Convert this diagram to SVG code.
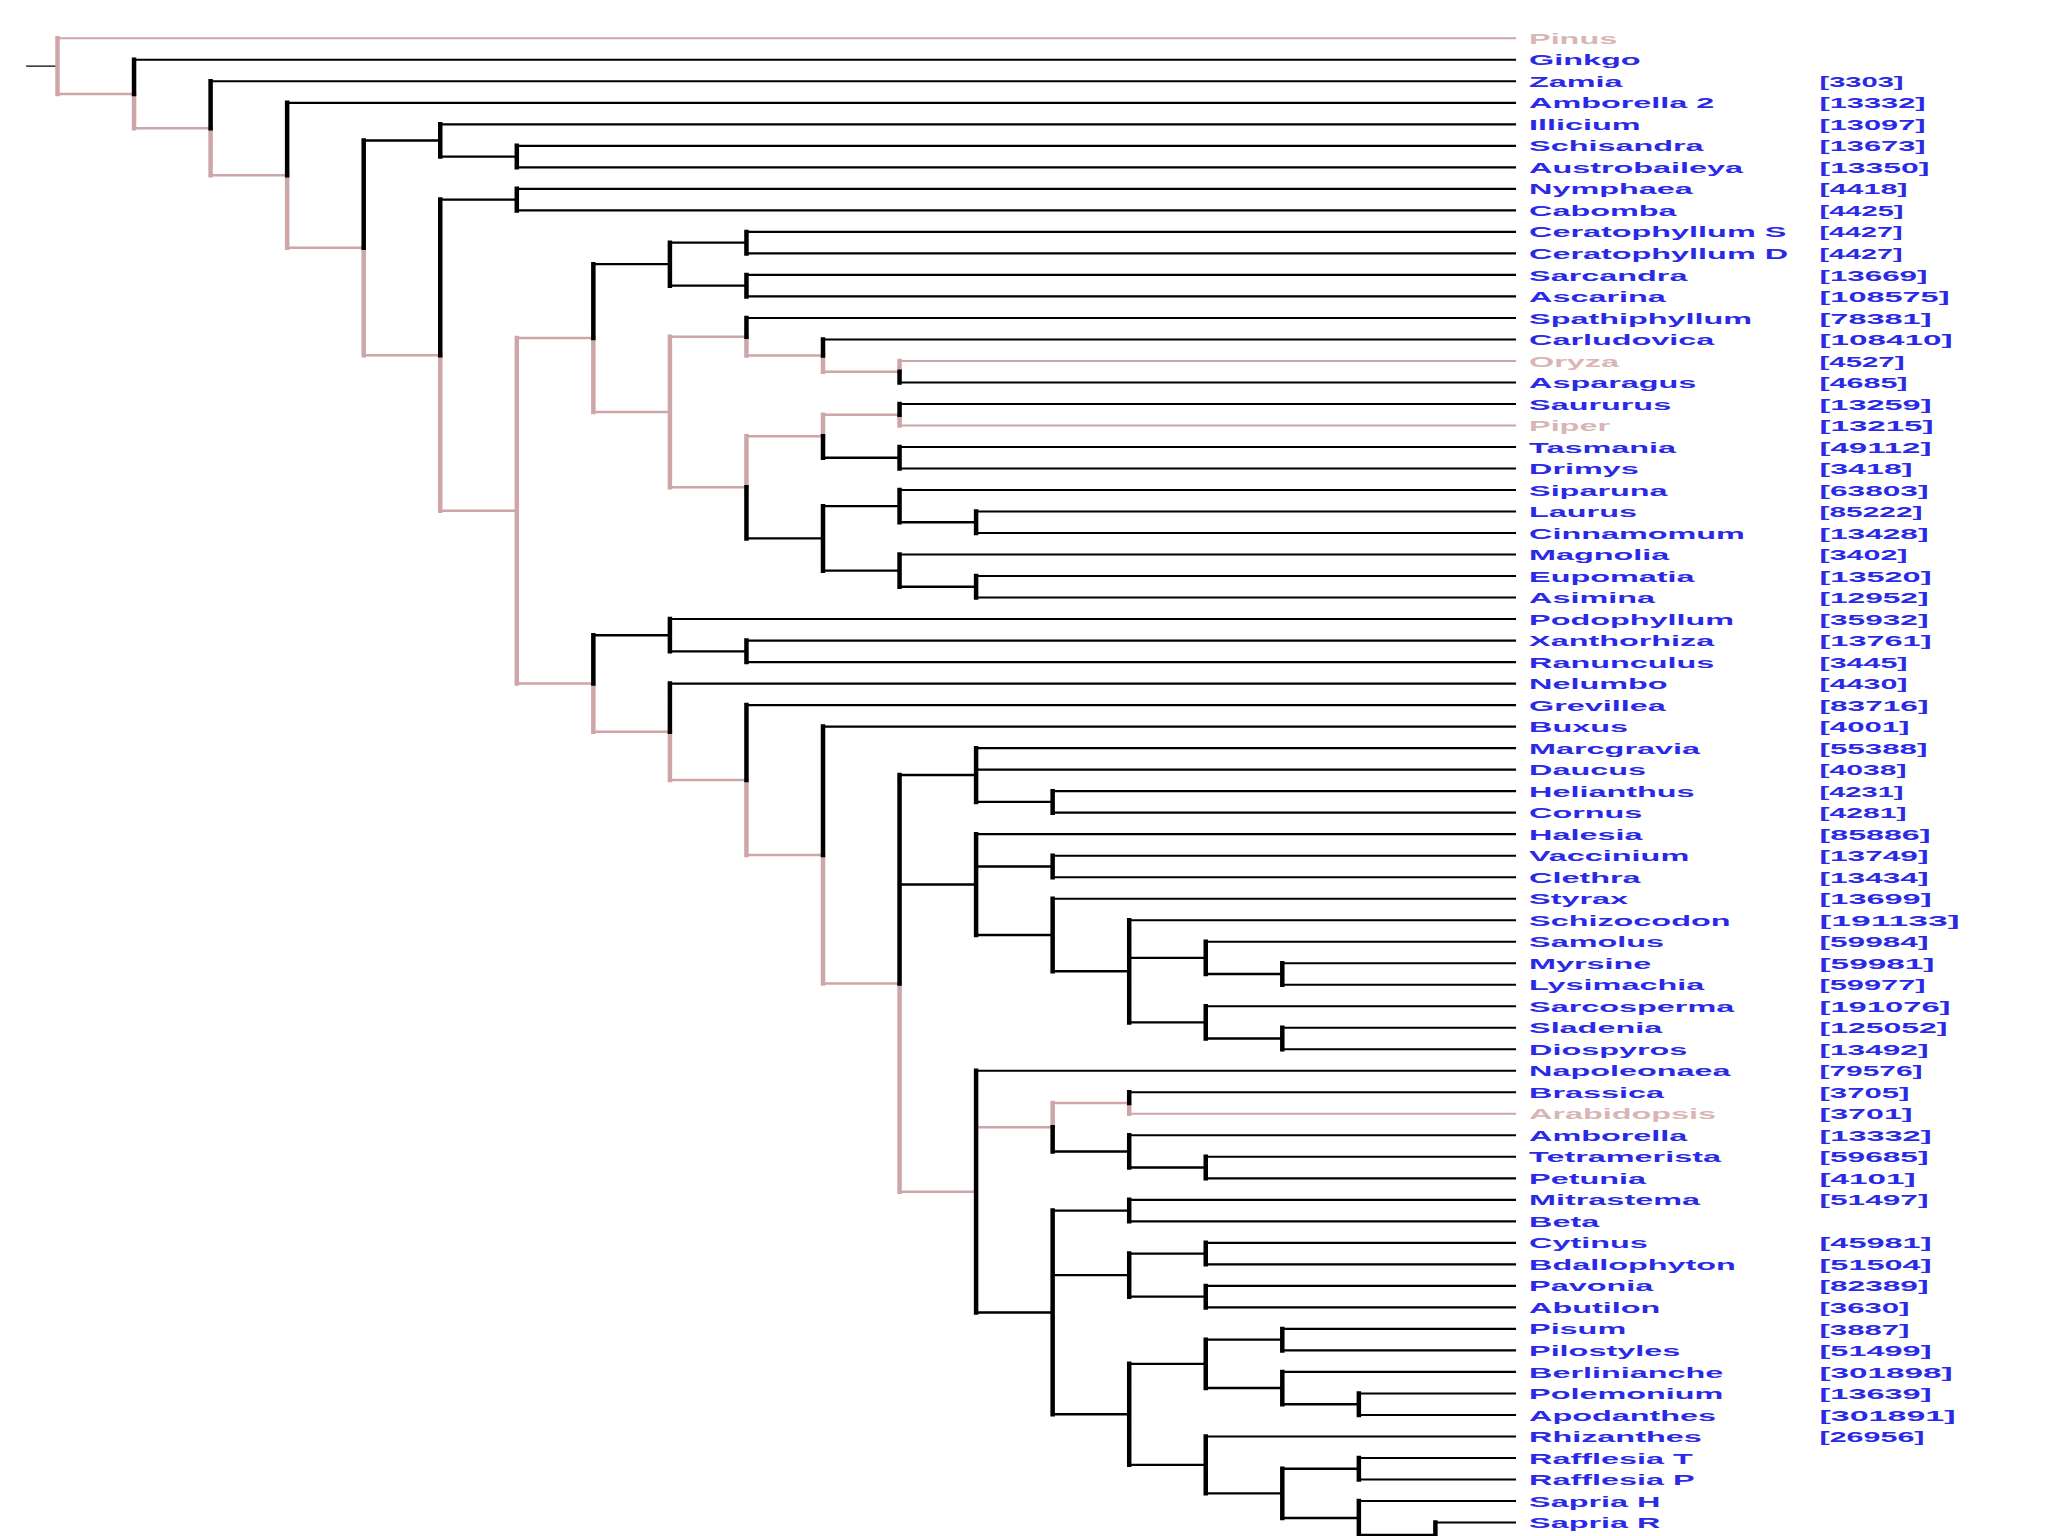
<svg xmlns="http://www.w3.org/2000/svg" width="2048" height="1536" viewBox="0 0 2048 1536">
<style>
.tree path{fill:none;vector-effect:non-scaling-stroke;stroke-linecap:square}
.pv{stroke:#cfa6a8;stroke-width:4.5}
.ph{stroke:#cfa6a8;stroke-width:2.5}
.bv{stroke:#000;stroke-width:4.5}
.bh{stroke:#000;stroke-width:2.4}
.bl{stroke:#000;stroke-width:2.1}
.pl{stroke:#cfa6a8;stroke-width:2}
.st{stroke:#000;stroke-width:1.4}
text{font-family:"Liberation Sans",Arial,sans-serif;font-weight:bold;font-size:15.5px}
.n{fill:#2a2ae6;transform:scale(2.09,1)}
.np{fill:#d8b6b6;transform:scale(2.09,1)}
.c{fill:#2a2ae6}
</style>
<rect width="2048" height="1536" fill="#ffffff"/>
<g id="connectors" class="tree" transform="translate(57.5,38.3) scale(76.55,21.51)">
<path class="st" d="M-0.4,1.295H0"/>
<path class="pl" d="M0,0H19.04M11,15H19.04M11,18H19.04M14,50H19.04"/>
<path class="ph" d="M0,2.59H1M1,4.185H2M2,6.37H3M3,9.74H4M4,14.73H5M5,21.97H6M6,13.9375H7M6,29.99H7M7,17.375H8M8,13.875H9M8,20.875H9M9,14.75H10M10,15.5H11M9,18.5H10M10,17.5H11M7,32.24H8M8,34.48H9M9,37.97H10M10,43.94H11M11,53.62H12M12,50.625H13M13,49.5H14"/>
<path class="pv" d="M0,0V2.59M1,2.59V4.185M2,4.185V6.37M3,6.37V9.74M4,9.74V14.73M5,14.73V21.97M6,13.9375V29.99M7,13.9375V17.375M8,13.875V20.875M9,13.875V14.75M10,14.75V15.5M11,15V15.5M9,18.5V20.875M10,17.5V18.5M11,17.5V18M7,29.99V32.24M8,32.24V34.48M9,34.48V37.97M10,37.97V43.94M11,43.94V53.62M13,49.5V50.625M14,49.5V50"/>
<path class="bl" d="M1,1H19.04M2,2H19.04M3,3H19.04M5,4H19.04M6,5H19.04M6,6H19.04M6,7H19.04M6,8H19.04M9,9H19.04M9,10H19.04M9,11H19.04M9,12H19.04M9,13H19.04M10,14H19.04M11,16H19.04M11,17H19.04M11,19H19.04M11,20H19.04M11,21H19.04M12,22H19.04M12,23H19.04M11,24H19.04M12,25H19.04M12,26H19.04M8,27H19.04M9,28H19.04M9,29H19.04M8,30H19.04M9,31H19.04M10,32H19.04M12,33H19.04M12,34H19.04M13,35H19.04M13,36H19.04M12,37H19.04M13,38H19.04M13,39H19.04M13,40H19.04M14,41H19.04M15,42H19.04M16,43H19.04M16,44H19.04M15,45H19.04M16,46H19.04M16,47H19.04M12,48H19.04M14,49H19.04M14,51H19.04M15,52H19.04M15,53H19.04M14,54H19.04M14,55H19.04M15,56H19.04M15,57H19.04M15,58H19.04M15,59H19.04M16,60H19.04M16,61H19.04M16,62H19.04M17,63H19.04M17,64H19.04M15,65H19.04M17,66H19.04M17,67H19.04M17,68H19.04M18,69H19.04"/>
<path class="bh" d="M4,4.75H5M5,5.5H6M5,7.5H6M7,10.5H8M8,9.5H9M8,11.5H9M9,23.25H10M10,19.5H11M10,21.75H11M10,24.75H11M11,22.5H12M11,25.5H12M7,27.75H8M8,28.5H9M11,34.25H12M11,39.34H12M12,35.5H13M12,38.5H13M12,41.6875H13M13,43.375H14M14,42.75H15M14,45.75H15M15,43.5H16M15,46.5H16M12,59.24H13M13,51.75H14M14,52.5H15M13,54.5H14M13,57.5H14M14,56.5H15M14,58.5H15M13,63.97H14M14,61.625H15M14,66.32H15M15,60.5H16M15,62.75H16M16,63.5H17M15,67.645H16M16,66.5H17M16,68.79H17M17,69.58H18"/>
<path class="bv" d="M1,1V2.59M2,2V4.185M3,3V6.37M4,4.75V9.74M5,4V5.5M6,5V6M5,7.5V14.73M6,7V8M7,10.5V13.9375M8,9.5V11.5M9,9V10M9,11V12M9,13V13.875M10,14V14.75M11,15.5V16M9,20.875V23.25M10,18.5V19.5M11,17V17.5M11,19V20M10,21.75V24.75M11,21V22.5M12,22V23M11,24V25.5M12,25V26M7,27.75V29.99M8,27V28.5M9,28V29M8,30V32.24M9,31V34.48M10,32V37.97M11,34.25V43.94M12,33V35.5M13,35V36M12,37V41.6875M13,38V39M13,40V43.375M14,41V45.75M15,42V43.5M16,43V44M15,45V46.5M16,46V47M12,48V59.24M13,50.625V51.75M14,49V49.5M14,51V52.5M15,52V53M13,54.5V63.97M14,54V55M14,56.5V58.5M15,56V57M15,58V59M14,61.625V66.32M15,60.5V62.75M16,60V61M16,62V63.5M17,63V64M15,65V67.645M16,66.5V68.79M17,66V67M17,68V69.58M18,69V71"/>
</g>
<g id="leaf-pinus"><text class="np" x="731.6" y="43.9">Pinus</text></g>
<g id="leaf-ginkgo"><text class="n" x="731.6" y="65.41">Ginkgo</text></g>
<g id="leaf-zamia"><text class="n" x="731.6" y="86.92">Zamia</text><text class="c" x="1819.5" y="86.92" textLength="84" lengthAdjust="spacingAndGlyphs">[3303]</text></g>
<g id="leaf-amborella2"><text class="n" x="731.6" y="108.43">Amborella 2</text><text class="c" x="1819.5" y="108.43" textLength="106" lengthAdjust="spacingAndGlyphs">[13332]</text></g>
<g id="leaf-illicium"><text class="n" x="731.6" y="129.94">Illicium</text><text class="c" x="1819.5" y="129.94" textLength="106" lengthAdjust="spacingAndGlyphs">[13097]</text></g>
<g id="leaf-schisandra"><text class="n" x="731.6" y="151.45">Schisandra</text><text class="c" x="1819.5" y="151.45" textLength="106" lengthAdjust="spacingAndGlyphs">[13673]</text></g>
<g id="leaf-austrobaileya"><text class="n" x="731.6" y="172.96">Austrobaileya</text><text class="c" x="1819.5" y="172.96" textLength="110" lengthAdjust="spacingAndGlyphs">[13350]</text></g>
<g id="leaf-nymphaea"><text class="n" x="731.6" y="194.47">Nymphaea</text><text class="c" x="1819.5" y="194.47" textLength="88" lengthAdjust="spacingAndGlyphs">[4418]</text></g>
<g id="leaf-cabomba"><text class="n" x="731.6" y="215.98">Cabomba</text><text class="c" x="1819.5" y="215.98" textLength="84" lengthAdjust="spacingAndGlyphs">[4425]</text></g>
<g id="leaf-ceratophyllum-s"><text class="n" x="731.6" y="237.49">Ceratophyllum S</text><text class="c" x="1819.5" y="237.49" textLength="83" lengthAdjust="spacingAndGlyphs">[4427]</text></g>
<g id="leaf-ceratophyllum-d"><text class="n" x="731.6" y="259">Ceratophyllum D</text><text class="c" x="1819.5" y="259" textLength="83" lengthAdjust="spacingAndGlyphs">[4427]</text></g>
<g id="leaf-sarcandra"><text class="n" x="731.6" y="280.51">Sarcandra</text><text class="c" x="1819.5" y="280.51" textLength="108" lengthAdjust="spacingAndGlyphs">[13669]</text></g>
<g id="leaf-ascarina"><text class="n" x="731.6" y="302.02">Ascarina</text><text class="c" x="1819.5" y="302.02" textLength="130" lengthAdjust="spacingAndGlyphs">[108575]</text></g>
<g id="leaf-spathiphyllum"><text class="n" x="731.6" y="323.53">Spathiphyllum</text><text class="c" x="1819.5" y="323.53" textLength="112" lengthAdjust="spacingAndGlyphs">[78381]</text></g>
<g id="leaf-carludovica"><text class="n" x="731.6" y="345.04">Carludovica</text><text class="c" x="1819.5" y="345.04" textLength="133" lengthAdjust="spacingAndGlyphs">[108410]</text></g>
<g id="leaf-oryza"><text class="np" x="731.6" y="366.55">Oryza</text><text class="c" x="1819.5" y="366.55" textLength="85" lengthAdjust="spacingAndGlyphs">[4527]</text></g>
<g id="leaf-asparagus"><text class="n" x="731.6" y="388.06">Asparagus</text><text class="c" x="1819.5" y="388.06" textLength="88" lengthAdjust="spacingAndGlyphs">[4685]</text></g>
<g id="leaf-saururus"><text class="n" x="731.6" y="409.57">Saururus</text><text class="c" x="1819.5" y="409.57" textLength="112" lengthAdjust="spacingAndGlyphs">[13259]</text></g>
<g id="leaf-piper"><text class="np" x="731.6" y="431.08">Piper</text><text class="c" x="1819.5" y="431.08" textLength="114" lengthAdjust="spacingAndGlyphs">[13215]</text></g>
<g id="leaf-tasmania"><text class="n" x="731.6" y="452.59">Tasmania</text><text class="c" x="1819.5" y="452.59" textLength="112" lengthAdjust="spacingAndGlyphs">[49112]</text></g>
<g id="leaf-drimys"><text class="n" x="731.6" y="474.1">Drimys</text><text class="c" x="1819.5" y="474.1" textLength="93" lengthAdjust="spacingAndGlyphs">[3418]</text></g>
<g id="leaf-siparuna"><text class="n" x="731.6" y="495.61">Siparuna</text><text class="c" x="1819.5" y="495.61" textLength="109" lengthAdjust="spacingAndGlyphs">[63803]</text></g>
<g id="leaf-laurus"><text class="n" x="731.6" y="517.12">Laurus</text><text class="c" x="1819.5" y="517.12" textLength="103" lengthAdjust="spacingAndGlyphs">[85222]</text></g>
<g id="leaf-cinnamomum"><text class="n" x="731.6" y="538.63">Cinnamomum</text><text class="c" x="1819.5" y="538.63" textLength="109" lengthAdjust="spacingAndGlyphs">[13428]</text></g>
<g id="leaf-magnolia"><text class="n" x="731.6" y="560.14">Magnolia</text><text class="c" x="1819.5" y="560.14" textLength="88" lengthAdjust="spacingAndGlyphs">[3402]</text></g>
<g id="leaf-eupomatia"><text class="n" x="731.6" y="581.65">Eupomatia</text><text class="c" x="1819.5" y="581.65" textLength="112" lengthAdjust="spacingAndGlyphs">[13520]</text></g>
<g id="leaf-asimina"><text class="n" x="731.6" y="603.16">Asimina</text><text class="c" x="1819.5" y="603.16" textLength="109" lengthAdjust="spacingAndGlyphs">[12952]</text></g>
<g id="leaf-podophyllum"><text class="n" x="731.6" y="624.67">Podophyllum</text><text class="c" x="1819.5" y="624.67" textLength="109" lengthAdjust="spacingAndGlyphs">[35932]</text></g>
<g id="leaf-xanthorhiza"><text class="n" x="731.6" y="646.18">Xanthorhiza</text><text class="c" x="1819.5" y="646.18" textLength="112" lengthAdjust="spacingAndGlyphs">[13761]</text></g>
<g id="leaf-ranunculus"><text class="n" x="731.6" y="667.69">Ranunculus</text><text class="c" x="1819.5" y="667.69" textLength="88" lengthAdjust="spacingAndGlyphs">[3445]</text></g>
<g id="leaf-nelumbo"><text class="n" x="731.6" y="689.2">Nelumbo</text><text class="c" x="1819.5" y="689.2" textLength="88" lengthAdjust="spacingAndGlyphs">[4430]</text></g>
<g id="leaf-grevillea"><text class="n" x="731.6" y="710.71">Grevillea</text><text class="c" x="1819.5" y="710.71" textLength="109" lengthAdjust="spacingAndGlyphs">[83716]</text></g>
<g id="leaf-buxus"><text class="n" x="731.6" y="732.22">Buxus</text><text class="c" x="1819.5" y="732.22" textLength="90" lengthAdjust="spacingAndGlyphs">[4001]</text></g>
<g id="leaf-marcgravia"><text class="n" x="731.6" y="753.73">Marcgravia</text><text class="c" x="1819.5" y="753.73" textLength="108" lengthAdjust="spacingAndGlyphs">[55388]</text></g>
<g id="leaf-daucus"><text class="n" x="731.6" y="775.24">Daucus</text><text class="c" x="1819.5" y="775.24" textLength="87" lengthAdjust="spacingAndGlyphs">[4038]</text></g>
<g id="leaf-helianthus"><text class="n" x="731.6" y="796.75">Helianthus</text><text class="c" x="1819.5" y="796.75" textLength="84" lengthAdjust="spacingAndGlyphs">[4231]</text></g>
<g id="leaf-cornus"><text class="n" x="731.6" y="818.26">Cornus</text><text class="c" x="1819.5" y="818.26" textLength="87" lengthAdjust="spacingAndGlyphs">[4281]</text></g>
<g id="leaf-halesia"><text class="n" x="731.6" y="839.77">Halesia</text><text class="c" x="1819.5" y="839.77" textLength="111" lengthAdjust="spacingAndGlyphs">[85886]</text></g>
<g id="leaf-vaccinium"><text class="n" x="731.6" y="861.28">Vaccinium</text><text class="c" x="1819.5" y="861.28" textLength="109" lengthAdjust="spacingAndGlyphs">[13749]</text></g>
<g id="leaf-clethra"><text class="n" x="731.6" y="882.79">Clethra</text><text class="c" x="1819.5" y="882.79" textLength="109" lengthAdjust="spacingAndGlyphs">[13434]</text></g>
<g id="leaf-styrax"><text class="n" x="731.6" y="904.3">Styrax</text><text class="c" x="1819.5" y="904.3" textLength="112" lengthAdjust="spacingAndGlyphs">[13699]</text></g>
<g id="leaf-schizocodon"><text class="n" x="731.6" y="925.81">Schizocodon</text><text class="c" x="1819.5" y="925.81" textLength="140" lengthAdjust="spacingAndGlyphs">[191133]</text></g>
<g id="leaf-samolus"><text class="n" x="731.6" y="947.32">Samolus</text><text class="c" x="1819.5" y="947.32" textLength="109" lengthAdjust="spacingAndGlyphs">[59984]</text></g>
<g id="leaf-myrsine"><text class="n" x="731.6" y="968.83">Myrsine</text><text class="c" x="1819.5" y="968.83" textLength="115" lengthAdjust="spacingAndGlyphs">[59981]</text></g>
<g id="leaf-lysimachia"><text class="n" x="731.6" y="990.34">Lysimachia</text><text class="c" x="1819.5" y="990.34" textLength="106" lengthAdjust="spacingAndGlyphs">[59977]</text></g>
<g id="leaf-sarcosperma"><text class="n" x="731.6" y="1011.85">Sarcosperma</text><text class="c" x="1819.5" y="1011.85" textLength="131" lengthAdjust="spacingAndGlyphs">[191076]</text></g>
<g id="leaf-sladenia"><text class="n" x="731.6" y="1033.36">Sladenia</text><text class="c" x="1819.5" y="1033.36" textLength="128" lengthAdjust="spacingAndGlyphs">[125052]</text></g>
<g id="leaf-diospyros"><text class="n" x="731.6" y="1054.87">Diospyros</text><text class="c" x="1819.5" y="1054.87" textLength="109" lengthAdjust="spacingAndGlyphs">[13492]</text></g>
<g id="leaf-napoleonaea"><text class="n" x="731.6" y="1076.38">Napoleonaea</text><text class="c" x="1819.5" y="1076.38" textLength="103" lengthAdjust="spacingAndGlyphs">[79576]</text></g>
<g id="leaf-brassica"><text class="n" x="731.6" y="1097.89">Brassica</text><text class="c" x="1819.5" y="1097.89" textLength="90" lengthAdjust="spacingAndGlyphs">[3705]</text></g>
<g id="leaf-arabidopsis"><text class="np" x="731.6" y="1119.4">Arabidopsis</text><text class="c" x="1819.5" y="1119.4" textLength="93" lengthAdjust="spacingAndGlyphs">[3701]</text></g>
<g id="leaf-amborella"><text class="n" x="731.6" y="1140.91">Amborella</text><text class="c" x="1819.5" y="1140.91" textLength="112" lengthAdjust="spacingAndGlyphs">[13332]</text></g>
<g id="leaf-tetramerista"><text class="n" x="731.6" y="1162.42">Tetramerista</text><text class="c" x="1819.5" y="1162.42" textLength="109" lengthAdjust="spacingAndGlyphs">[59685]</text></g>
<g id="leaf-petunia"><text class="n" x="731.6" y="1183.93">Petunia</text><text class="c" x="1819.5" y="1183.93" textLength="96" lengthAdjust="spacingAndGlyphs">[4101]</text></g>
<g id="leaf-mitrastema"><text class="n" x="731.6" y="1205.44">Mitrastema</text><text class="c" x="1819.5" y="1205.44" textLength="109" lengthAdjust="spacingAndGlyphs">[51497]</text></g>
<g id="leaf-beta"><text class="n" x="731.6" y="1226.95">Beta</text></g>
<g id="leaf-cytinus"><text class="n" x="731.6" y="1248.46">Cytinus</text><text class="c" x="1819.5" y="1248.46" textLength="112" lengthAdjust="spacingAndGlyphs">[45981]</text></g>
<g id="leaf-bdallophyton"><text class="n" x="731.6" y="1269.97">Bdallophyton</text><text class="c" x="1819.5" y="1269.97" textLength="112" lengthAdjust="spacingAndGlyphs">[51504]</text></g>
<g id="leaf-pavonia"><text class="n" x="731.6" y="1291.48">Pavonia</text><text class="c" x="1819.5" y="1291.48" textLength="109" lengthAdjust="spacingAndGlyphs">[82389]</text></g>
<g id="leaf-abutilon"><text class="n" x="731.6" y="1312.99">Abutilon</text><text class="c" x="1819.5" y="1312.99" textLength="90" lengthAdjust="spacingAndGlyphs">[3630]</text></g>
<g id="leaf-pisum"><text class="n" x="731.6" y="1334.5">Pisum</text><text class="c" x="1819.5" y="1334.5" textLength="90" lengthAdjust="spacingAndGlyphs">[3887]</text></g>
<g id="leaf-pilostyles"><text class="n" x="731.6" y="1356.01">Pilostyles</text><text class="c" x="1819.5" y="1356.01" textLength="112" lengthAdjust="spacingAndGlyphs">[51499]</text></g>
<g id="leaf-berlinianche"><text class="n" x="731.6" y="1377.52">Berlinianche</text><text class="c" x="1819.5" y="1377.52" textLength="133" lengthAdjust="spacingAndGlyphs">[301898]</text></g>
<g id="leaf-polemonium"><text class="n" x="731.6" y="1399.03">Polemonium</text><text class="c" x="1819.5" y="1399.03" textLength="112" lengthAdjust="spacingAndGlyphs">[13639]</text></g>
<g id="leaf-apodanthes"><text class="n" x="731.6" y="1420.54">Apodanthes</text><text class="c" x="1819.5" y="1420.54" textLength="136" lengthAdjust="spacingAndGlyphs">[301891]</text></g>
<g id="leaf-rhizanthes"><text class="n" x="731.6" y="1442.05">Rhizanthes</text><text class="c" x="1819.5" y="1442.05" textLength="105" lengthAdjust="spacingAndGlyphs">[26956]</text></g>
<g id="leaf-rafflesia-t"><text class="n" x="731.6" y="1463.56">Rafflesia T</text></g>
<g id="leaf-rafflesia-p"><text class="n" x="731.6" y="1485.07">Rafflesia P</text></g>
<g id="leaf-sapria-h"><text class="n" x="731.6" y="1506.58">Sapria H</text></g>
<g id="leaf-sapria-r"><text class="n" x="731.6" y="1528.09">Sapria R</text></g>
</svg>
